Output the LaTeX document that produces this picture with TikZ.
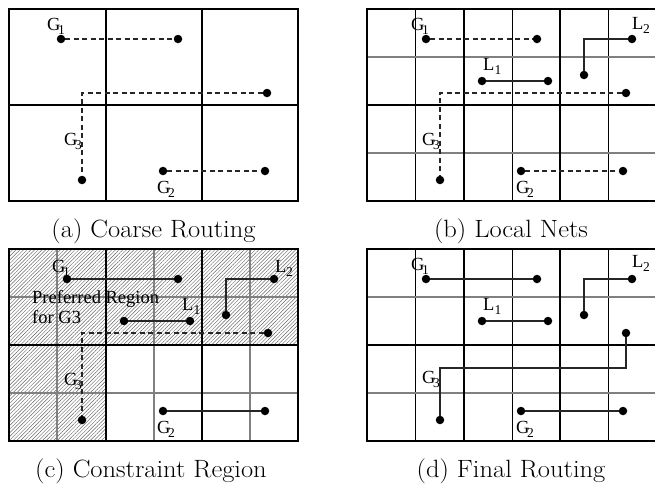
\documentclass[tikz,border=0pt]{standalone}
\usepackage{fontspec}
\newfontfamily\lblfont{Liberation Serif}
\usetikzlibrary{patterns.meta}

% net name with a lowered index, e.g. \netname{G}{1}
\newcommand{\netname}[3][-2.5pt]{#2\kern#1\raisebox{-4.5pt}{\fontsize{13.5}{13.5}\selectfont #3}}
% sub-figure caption, slightly widened
\newcommand{\subcap}[1]{\scalebox{1.06}[1]{#1}}

\begin{document}
\begin{tikzpicture}[x=1pt,y=-1pt,
  coarse/.style={line width=2pt},
  finev/.style={line width=0.9pt},
  fineh/.style={line width=1.2pt, gray},
  dot/.style={circle, fill, inner sep=0pt, minimum size=8.5pt},
  route/.style={line width=1.3pt, black!85},
  coarseroute/.style={route, dash pattern=on 5pt off 3.5pt},
  lbl/.style={font=\lblfont\fontsize{18.5}{18.5}\selectfont, inner sep=0pt, anchor=base west},
  captext/.style={font=\fontsize{25}{30}\selectfont, inner sep=0pt, anchor=base},
  hatch/.style={pattern={Lines[angle=45,distance=2.6pt,line width=0.45pt]}, pattern color=black!60}
]
\useasboundingbox (0,0) rectangle (655,483);

%% ---------------- (a) Coarse Routing ----------------
\draw[coarse] (9,9) rectangle (298,201);
\draw[coarse] (105.5,9) -- (105.5,201) (202,9) -- (202,201) (9,105) -- (298,105);

\node[dot] (a-g1s) at (61,39) {};
\node[dot] (a-g1t) at (178,39) {};
\node[dot] (a-g3s) at (267,93) {};
\node[dot] (a-g3t) at (82,180) {};
\node[dot] (a-g2s) at (163,171) {};
\node[dot] (a-g2t) at (265,171) {};
\draw[coarseroute] (a-g1s) -- (a-g1t);
\draw[coarseroute] (a-g3s) -| (a-g3t);
\draw[coarseroute] (a-g2s) -- (a-g2t);

\node[lbl] (a-lg1) at (47,30) {\netname{G}{1}};
\node[lbl] (a-lg3) at (64,145) {\netname{G}{3}};
\node[lbl] (a-lg2) at (157,193) {\netname{G}{2}};
\node[captext] (a-cap) at (153.5,237) {\subcap{(a) Coarse Routing}};

%% ---------------- (b) Local Nets ----------------
\foreach \x in {415,512,608} \draw[finev] (\x,9) -- (\x,201);
\foreach \y in {57,153} \draw[fineh] (367,\y) -- (660,\y);
\draw[coarse] (367,9) rectangle (660,201);
\draw[coarse] (463.5,9) -- (463.5,201) (560,9) -- (560,201) (367,105) -- (660,105);

\node[dot] (b-g1s) at (426,39) {};
\node[dot] (b-g1t) at (537,39) {};
\node[dot] (b-l2s) at (632,39) {};
\node[dot] (b-l2t) at (584,75) {};
\node[dot] (b-l1s) at (482,81) {};
\node[dot] (b-l1t) at (548,81) {};
\node[dot] (b-g3s) at (626,93) {};
\node[dot] (b-g3t) at (440,180) {};
\node[dot] (b-g2s) at (521,171) {};
\node[dot] (b-g2t) at (623,171) {};
\draw[coarseroute] (b-g1s) -- (b-g1t);
\draw[route] (b-l2s) -| (b-l2t);
\draw[route] (b-l1s) -- (b-l1t);
\draw[coarseroute] (b-g3s) -| (b-g3t);
\draw[coarseroute] (b-g2s) -- (b-g2t);

\node[lbl] (b-lg1) at (411,30) {\netname{G}{1}};
\node[lbl] (b-ll2) at (632,29) {\netname[-0.5pt]{L}{2}};
\node[lbl] (b-ll1) at (483,70) {\netname[0pt]{L}{1}};
\node[lbl] (b-lg3) at (422,145) {\netname{G}{3}};
\node[lbl] (b-lg2) at (516,193) {\netname{G}{2}};
\node[captext] (b-cap) at (511,237) {\subcap{(b) Local Nets}};

%% ---------------- (c) Constraint Region ----------------
\fill[hatch] (9,249) rectangle (298,345);
\fill[hatch] (9,345) rectangle (105.5,441);
\foreach \x in {57,154,250} \draw[fineh] (\x,249) -- (\x,441);
\foreach \y in {297,393} \draw[fineh] (9,\y) -- (298,\y);
\draw[coarse] (9,249) rectangle (298,441);
\draw[coarse] (105.5,249) -- (105.5,441) (202,249) -- (202,441) (9,345) -- (298,345);

\node[dot] (c-g1s) at (67,279) {};
\node[dot] (c-g1t) at (178,279) {};
\node[dot] (c-l1s) at (124,321) {};
\node[dot] (c-l1t) at (190,321) {};
\node[dot] (c-l2s) at (274,279) {};
\node[dot] (c-l2t) at (226,315) {};
\node[dot] (c-g3s) at (268,333) {};
\node[dot] (c-g3t) at (82,420) {};
\node[dot] (c-g2s) at (163,411) {};
\node[dot] (c-g2t) at (265,411) {};
\draw[route] (c-g1s) -- (c-g1t);
\draw[route] (c-l1s) -- (c-l1t);
\draw[route] (c-l2s) -| (c-l2t);
\draw[coarseroute] (c-g3s) -| (c-g3t);
\draw[route] (c-g2s) -- (c-g2t);

\node[lbl] (c-lg1) at (52,272) {\netname{G}{1}};
\node[lbl] (c-pref1) at (32,303) {Preferred Region};
\node[lbl] (c-pref2) at (32,323) {for G3};
\node[lbl] (c-ll1) at (182,310) {\netname[0pt]{L}{1}};
\node[lbl] (c-ll2) at (275,272) {\netname[-0.5pt]{L}{2}};
\node[lbl] (c-lg3) at (64,385) {\netname{G}{3}};
\node[lbl] (c-lg2) at (157,433) {\netname{G}{2}};
\node[captext] (c-cap) at (151,477) {\subcap{(c) Constraint Region}};

%% ---------------- (d) Final Routing ----------------
\foreach \x in {415,512,608} \draw[finev] (\x,249) -- (\x,441);
\foreach \y in {297,393} \draw[fineh] (367,\y) -- (660,\y);
\draw[coarse] (367,249) rectangle (660,441);
\draw[coarse] (463.5,249) -- (463.5,441) (560,249) -- (560,441) (367,345) -- (660,345);

\node[dot] (d-g1s) at (426,279) {};
\node[dot] (d-g1t) at (537,279) {};
\node[dot] (d-l2s) at (632,279) {};
\node[dot] (d-l2t) at (584,315) {};
\node[dot] (d-l1s) at (482,321) {};
\node[dot] (d-l1t) at (548,321) {};
\node[dot] (d-g3s) at (626,333) {};
\coordinate (d-g3bend) at (626,368);
\node[dot] (d-g3t) at (440,420) {};
\node[dot] (d-g2s) at (521,411) {};
\node[dot] (d-g2t) at (623,411) {};
\draw[route] (d-g1s) -- (d-g1t);
\draw[route] (d-l2s) -| (d-l2t);
\draw[route] (d-l1s) -- (d-l1t);
\draw[route] (d-g3s) -- (d-g3bend) -| (d-g3t);
\draw[route] (d-g2s) -- (d-g2t);

\node[lbl] (d-lg1) at (411,270) {\netname{G}{1}};
\node[lbl] (d-ll2) at (632,267) {\netname[-0.5pt]{L}{2}};
\node[lbl] (d-ll1) at (483,310) {\netname[0pt]{L}{1}};
\node[lbl] (d-lg3) at (422,383) {\netname{G}{3}};
\node[lbl] (d-lg2) at (516,433) {\netname{G}{2}};
\node[captext] (d-cap) at (511,477) {\subcap{(d) Final Routing}};
\end{tikzpicture}
\end{document}
